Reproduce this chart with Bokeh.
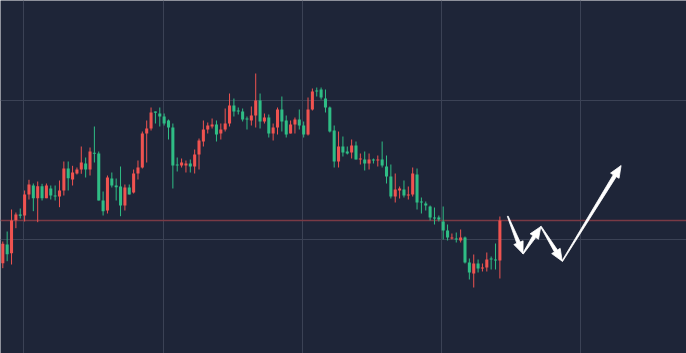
import math
from bokeh.plotting import figure
from bokeh.models import Range1d, Grid, FixedTicker, Span, ColumnDataSource
from bokeh.embed import file_html
from bokeh.resources import INLINE

# OHLC values (arbitrary price units)
open_ = [137.3, 156, 147.3, 180.3, 186, 185, 206, 215, 202.3, 214.3,
         202.3, 212, 205, 204, 210, 232, 221, 227, 231, 237,
         231, 247.7, 247, 200, 190, 222, 215, 214, 195, 213,
         208, 227, 233, 267, 272, 289, 287, 284, 280, 273,
         236, 235, 235, 237, 234, 246, 259, 271, 274, 276,
         267, 271, 277, 295, 290, 289, 282, 280, 285, 300,
         279, 283, 267, 273, 291, 280, 267, 276, 281, 275,
         266, 291, 310, 311, 302, 293, 270, 239, 254, 249,
         248, 255, 241, 241, 237, 241, 240, 241, 234, 224,
         204, 210, 211, 205, 206, 226, 199, 197, 194, 183,
         183, 179, 170, 162, 162, 160, 163, 138, 127, 137,
         132, 133, 142, 141, 140]
high = [159, 169, 191, 188, 192, 210, 220.7, 217, 219, 216.7,
        217, 215, 215, 220, 239, 239, 234.7, 233, 254, 243,
        253, 274, 249, 209, 225, 228, 222, 234, 216, 216,
        231, 240, 269, 280, 293, 289, 293, 287, 281, 277,
        243, 242, 240, 241, 251, 262, 280, 278, 282, 280,
        277, 292, 307, 302, 293, 292, 284, 294, 327, 307,
        287, 286, 277, 293, 304, 285, 280, 283, 291, 279,
        303, 312, 313, 313, 311, 294, 275, 269, 264, 254,
        261, 259, 247, 249, 247, 242, 245, 259, 245, 236,
        227, 214, 220, 214, 233, 232, 203, 199, 195, 193,
        185, 194, 176, 167, 168, 171, 164, 142, 146, 141,
        137, 148, 144, 157, 184]
low = [132.3, 139.3, 136, 172.3, 182, 179, 201, 189.3, 178.3, 200,
       202.3, 201, 200, 193.3, 205, 210, 215, 226, 226.7, 223,
       225, 238, 200, 185, 187, 213, 200, 184.3, 190, 206,
       207, 221, 232, 238, 270, 277, 274, 275, 261, 212,
       229, 233, 228, 228, 227, 231, 254, 267, 272, 259,
       261, 269, 274, 284, 286, 279, 271, 275, 273, 272,
       277, 263, 260, 266, 269, 263, 267, 267, 271, 263,
       265, 290, 304, 301, 288, 268, 233, 233, 244, 246,
       242, 241, 236, 230, 231, 237, 234, 233, 217, 202,
       198, 202, 203, 201, 204, 191, 187, 190, 180, 176,
       179, 161, 160, 161, 158, 158, 137, 121, 113, 128,
       129, 129, 131, 131, 122]
close = [156.7, 146.3, 180, 186, 184.7, 206, 216, 202.3, 214.3, 202.3,
         215, 205, 204, 210, 232, 222.3, 228, 231, 238, 231,
         249, 246.7, 200, 189.3, 223, 215, 213.3, 195, 213, 206,
         227, 233, 267, 272, 288, 287.7, 284, 277, 273, 235,
         235, 238, 237, 234, 246, 260, 271, 275, 276, 266,
         271, 277, 295, 289, 289, 281, 281, 285, 300, 279,
         283, 267, 273, 291, 279, 266, 276, 281, 275, 266,
         291, 309, 309, 303, 293, 269, 239, 254, 248, 247,
         255, 241, 242, 237, 241, 240, 241, 235, 224, 204,
         211, 212, 205, 206, 227, 198, 198, 195, 183, 182,
         181, 170, 163, 163, 161, 163, 138, 128, 137, 132,
         133, 141, 141, 140, 180]

# Projected path drawn with arrows: (bar index, price)
path_index = [115.8, 119.3, 123.4, 128.3, 141.8]
path_price = [184.3, 146.7, 174.0, 139.3, 235.0]

BG = "#1e2538"
GRID = "#3b4255"
UP = "#ef5350"
DOWN = "#2fbd85"

W, H = 686, 353
X0, X1 = -0.53, 156.8
Y0, Y1 = 47, 400

n = len(close)
xs = list(range(n))
colors = [UP if c >= o else DOWN for o, c in zip(open_, close)]
tops = [max(o, c) for o, c in zip(open_, close)]
bots = [min(o, c) for o, c in zip(open_, close)]
tops = [t if t - b >= 1 else b + 1 for t, b in zip(tops, bots)]

src = ColumnDataSource(dict(x=xs, open=open_, high=high, low=low, close=close,
                            top=tops, bottom=bots, color=colors))

p = figure(width=W, height=H, x_range=Range1d(X0, X1),
           y_range=Range1d(Y0, Y1), output_backend="svg",
           toolbar_location=None, x_axis_location=None, y_axis_location=None,
           min_border=0, background_fill_color=BG, border_fill_color=BG,
           outline_line_color=None)

# drop any default grids, then add our own
p.center = [r for r in p.center if not isinstance(r, Grid)]

p.add_layout(Grid(dimension=0, ticker=FixedTicker(ticks=[4.8, 36.75, 68.7, 100.65, 132.6]),
                  grid_line_color=GRID, grid_line_width=1))
p.add_layout(Grid(dimension=1, ticker=FixedTicker(ticks=[21.7, 161.0, 300.0]),
                  grid_line_color=GRID, grid_line_width=1))

p.add_layout(Span(location=close[-1], dimension="width", line_color="#7a3a45",
                  line_width=1.5, level="underlay"))

p.segment(x0="x", y0="low", x1="x", y1="high", line_color="color",
          line_width=1, source=src)
p.vbar(x="x", width=0.7, top="top", bottom="bottom", fill_color="color",
       line_color=None, source=src)

# tapered arrows (shape built in screen pixels, mapped back to data units)
sx = W / (X1 - X0)
sy = H / (Y1 - Y0)
HEAD_L, HEAD_HW, W0, W1 = 12.0, 5.0, 0.8, 3.6
arrow_xs, arrow_ys = [], []
for i in range(len(path_index) - 1):
    ax, ay = path_index[i] * sx, path_price[i] * sy
    bx, by = path_index[i + 1] * sx, path_price[i + 1] * sy
    L = math.hypot(bx - ax, by - ay)
    ux, uy = (bx - ax) / L, (by - ay) / L
    nx, ny = -uy, ux
    cx, cy = bx - HEAD_L * ux, by - HEAD_L * uy
    pts = [(ax + nx * W0 / 2, ay + ny * W0 / 2),
           (cx + nx * W1 / 2, cy + ny * W1 / 2),
           (cx + nx * HEAD_HW, cy + ny * HEAD_HW),
           (bx, by),
           (cx - nx * HEAD_HW, cy - ny * HEAD_HW),
           (cx - nx * W1 / 2, cy - ny * W1 / 2),
           (ax - nx * W0 / 2, ay - ny * W0 / 2)]
    arrow_xs.append([q[0] / sx for q in pts])
    arrow_ys.append([q[1] / sy for q in pts])

p.patches(xs=arrow_xs, ys=arrow_ys, fill_color="white", line_color="white",
          line_width=0.8, line_join="round")

open("out.html", "w").write(file_html(p, INLINE))
